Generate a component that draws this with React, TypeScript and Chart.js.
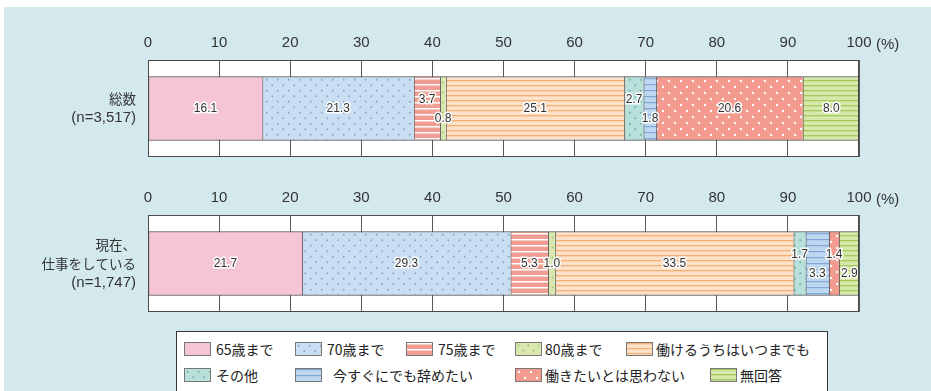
import React, { useEffect, useRef } from 'react';
import { Chart, registerables } from 'chart.js';

Chart.register(...registerables);

// ---------------- data ----------------
const seriesNames = [
  '65歳まで',
  '70歳まで',
  '75歳まで',
  '80歳まで',
  '働けるうちはいつまでも',
  'その他',
  '今すぐにでも辞めたい',
  '働きたいとは思わない',
  '無回答',
];
const totalLabel = ['総数', '(n=3,517)'];
const workingLabel = ['現在、', '仕事をしている', '(n=1,747)'];
const totalValues = [16.1, 21.3, 3.7, 0.8, 25.1, 2.7, 1.8, 20.6, 8.0];
const workingValues = [21.7, 29.3, 5.3, 1.0, 33.5, 1.7, 3.3, 1.4, 2.9];
const tickValues = [0, 10, 20, 30, 40, 50, 60, 70, 80, 90, 100];
const unitLabel = '(%)';

// ---------------- styles ----------------
type Fill = { base: string; kind: 'none' | 'dots' | 'stripes'; fg?: string; size?: number; r?: number; line?: number };
const fills: Fill[] = [
  { base: '#f5c5d7', kind: 'none' },
  { base: '#c9def2', kind: 'dots', fg: '#8ca4c0', size: 11, r: 0.9 },
  { base: '#f09d93', kind: 'stripes', fg: '#ffffff', size: 6, line: 1.5 },
  { base: '#d8e8b0', kind: 'dots', fg: '#a3c267', size: 10, r: 0.9 },
  { base: '#fde1cb', kind: 'stripes', fg: '#f5b073', size: 5, line: 1.3 },
  { base: '#b8dfd9', kind: 'dots', fg: '#6cb2a5', size: 11, r: 1.0 },
  { base: '#bdd7f1', kind: 'stripes', fg: '#83a7d6', size: 6, line: 1.2 },
  { base: '#f39b8f', kind: 'dots', fg: '#ffffff', size: 12, r: 1.2 },
  { base: '#d6e9aa', kind: 'stripes', fg: '#a5ca5f', size: 5, line: 1.3 },
];
const totalOffsets = [0, 0, -9, 10, 0, -9, 10, 0, 0];
const workingOffsets = [0, 0, 0, 0, 0, -9, 10, -9, 10];

const legendRows = [
  [
    { i: 0, sx: 184, tx: 216 },
    { i: 1, sx: 295, tx: 327 },
    { i: 2, sx: 406, tx: 438 },
    { i: 3, sx: 515, tx: 545 },
    { i: 4, sx: 626, tx: 656 },
  ],
  [
    { i: 5, sx: 184, tx: 216 },
    { i: 6, sx: 295, tx: 333 },
    { i: 7, sx: 515, tx: 545 },
    { i: 8, sx: 710, tx: 740 },
  ],
];

const NUM_FONT = "'Liberation Sans', Arial, sans-serif";
const JP_FONT = "'Noto Sans CJK JP', 'Noto Sans', sans-serif";

function makeTile(f: Fill): HTMLCanvasElement {
  const c = document.createElement('canvas');
  const s = f.size || 4;
  c.width = f.kind === 'stripes' ? 8 : s;
  c.height = s;
  const ctx = c.getContext('2d')!;
  ctx.fillStyle = f.base;
  ctx.fillRect(0, 0, c.width, c.height);
  if (f.kind === 'stripes') {
    ctx.fillStyle = f.fg!;
    ctx.fillRect(0, 0, c.width, 1);
    const extra = (f.line || 1) - 1;
    if (extra > 0) {
      ctx.globalAlpha = extra;
      ctx.fillRect(0, 1, c.width, 1);
      ctx.globalAlpha = 1;
    }
  } else if (f.kind === 'dots') {
    ctx.fillStyle = f.fg!;
    const r = f.r || 1;
    ctx.beginPath();
    ctx.arc(s * 0.25, s * 0.25, r, 0, Math.PI * 2);
    ctx.arc(s * 0.75, s * 0.75, r, 0, Math.PI * 2);
    ctx.fill();
  }
  return c;
}

const isCJK = (ch: string) => /[\u3000-\u30ff\u4e00-\u9fff\uff00-\uffef]/.test(ch);

function splitRuns(text: string) {
  const runs: { t: string; cjk: boolean }[] = [];
  for (const ch of text) {
    const c = isCJK(ch);
    const last = runs[runs.length - 1];
    if (last && last.cjk === c) last.t += ch;
    else runs.push({ t: ch, cjk: c });
  }
  return runs;
}

const bgPlugin = {
  id: 'areaBg',
  beforeDraw(chart: any) {
    const { ctx, chartArea: a } = chart;
    ctx.save();
    ctx.fillStyle = '#ffffff';
    ctx.fillRect(a.left, a.top, a.right - a.left, a.bottom - a.top);
    ctx.restore();
  },
};

const framePlugin = {
  id: 'frame',
  afterDraw(chart: any) {
    const { ctx, chartArea: a } = chart;
    ctx.save();
    ctx.strokeStyle = '#4a4a4a';
    ctx.lineWidth = 1;
    ctx.strokeRect(Math.round(a.left) + 0.5, Math.round(a.top) + 0.5, Math.round(a.right - a.left) - 1, Math.round(a.bottom - a.top) - 1);
    ctx.fillStyle = '#333';
    ctx.font = `15px ${NUM_FONT}`;
    ctx.textAlign = 'left';
    ctx.textBaseline = 'bottom';
    ctx.fillText(unitLabel, a.right + 17, a.top - 8);

    // category label, mixed Japanese / Latin fonts, right aligned
    const ys = chart.scales.y;
    const lines: string[] = chart.data.labels[0];
    const lh = 19;
    const cy = ys.getPixelForTick(0);
    const xr = a.left - 12;
    ctx.textBaseline = 'middle';
    lines.forEach((line, k) => {
      const y = cy + (k - (lines.length - 1) / 2) * lh;
      const runs = splitRuns(line);
      const fontOf = (r: { cjk: boolean }) => (r.cjk ? `13.5px ${JP_FONT}` : `15px ${NUM_FONT}`);
      let w = 0;
      runs.forEach((r) => {
        ctx.font = fontOf(r);
        w += ctx.measureText(r.t).width;
      });
      let x = xr - w;
      runs.forEach((r) => {
        ctx.font = fontOf(r);
        ctx.textAlign = 'left';
        ctx.fillText(r.t, x, y);
        x += ctx.measureText(r.t).width;
      });
    });
    ctx.restore();
  },
};

const segLabelPlugin = {
  id: 'segLabels',
  afterDatasetsDraw(chart: any, _args: any, opts: any) {
    const { ctx } = chart;
    const offsets: number[] = opts.offsets || [];
    ctx.save();
    ctx.font = `12px ${NUM_FONT}`;
    ctx.textAlign = 'center';
    ctx.textBaseline = 'middle';
    ctx.lineJoin = 'round';
    chart.data.datasets.forEach((ds: any, i: number) => {
      const el = chart.getDatasetMeta(i).data[0];
      if (!el) return;
      const p = el.getProps(['x', 'base', 'y'], true);
      const cx = (p.x + p.base) / 2;
      const cy = p.y + (offsets[i] || 0);
      const txt = Number(ds.data[0]).toFixed(1);
      ctx.strokeStyle = 'rgba(255,255,255,0.95)';
      ctx.lineWidth = 3;
      ctx.strokeText(txt, cx, cy);
      ctx.fillStyle = '#333';
      ctx.fillText(txt, cx, cy);
    });
    ctx.restore();
  },
};

function BarPanel({ top, label, values, offsets }: { top: number; label: string[]; values: number[]; offsets: number[] }) {
  const ref = useRef<HTMLCanvasElement | null>(null);
  useEffect(() => {
    const canvas = ref.current!;
    const ctx = canvas.getContext('2d')!;
    const patterns = fills.map((f) => ctx.createPattern(makeTile(f), 'repeat')!);
    const chart = new Chart(canvas, {
      type: 'bar',
      data: {
        labels: [label],
        datasets: seriesNames.map((name, i) => ({
          label: name,
          data: [values[i]],
          backgroundColor: patterns[i],
          borderColor: '#4a4a4a',
          borderWidth: { top: 1, bottom: 1, left: 1, right: 0 },
          borderSkipped: false,
          barThickness: 64,
        })),
      },
      options: {
        indexAxis: 'y',
        animation: false,
        responsive: false,
        maintainAspectRatio: false,
        layout: { padding: { left: 0, right: 72, top: 0, bottom: 3 } },
        plugins: {
          legend: { display: false },
          tooltip: { enabled: false },
          segLabels: { offsets },
        } as any,
        scales: {
          x: {
            type: 'linear',
            position: 'top',
            stacked: true,
            min: 0,
            max: 100,
            afterBuildTicks: (s: any) => {
              s.ticks = tickValues.map((v) => ({ value: v }));
            },
            ticks: {
              font: { family: NUM_FONT, size: 15 },
              color: '#333',
              padding: 8,
              maxRotation: 0,
              autoSkip: false,
            },
            grid: { color: '#5a5a5a', lineWidth: 1, drawTicks: false },
            border: { display: false },
            afterFit: (s: any) => {
              s.height = 60;
            },
          },
          y: {
            stacked: true,
            ticks: { display: false },
            grid: { display: false },
            border: { display: false },
            afterFit: (s: any) => {
              s.width = 148;
              s.paddingTop = 0;
              s.paddingBottom = 0;
            },
          },
        },
      } as any,
      plugins: [bgPlugin, segLabelPlugin, framePlugin],
    });
    return () => chart.destroy();
  }, []);
  return (
    <canvas
      ref={ref}
      width={931}
      height={160}
      style={{ position: 'absolute', left: 0, top, width: 931, height: 160 }}
    />
  );
}

function Legend() {
  const tiles = fills.map((f) => (f.kind === 'none' ? null : makeTile(f).toDataURL()));
  const rowTops = [342, 368];
  return (
    <>
      <div
        style={{
          position: 'absolute',
          left: 176,
          top: 331,
          width: 652,
          height: 70,
          background: '#ffffff',
          border: '1px solid #333',
          boxSizing: 'border-box',
        }}
      />
      {legendRows.map((row, r) =>
        row.map((it) => (
          <React.Fragment key={it.i}>
            <div
              style={{
                position: 'absolute',
                left: it.sx,
                top: rowTops[r],
                width: 27,
                height: 14,
                boxSizing: 'border-box',
                border: '1px solid #777',
                backgroundColor: fills[it.i].base,
                backgroundImage: tiles[it.i] ? `url(${tiles[it.i]})` : 'none',
              }}
            />
            <div
              style={{
                position: 'absolute',
                left: it.tx,
                top: rowTops[r] - 3,
                height: 20,
                lineHeight: '20px',
                fontFamily: JP_FONT,
                fontSize: 14,
                color: '#222',
                whiteSpace: 'nowrap',
              }}
            >
              {seriesNames[it.i]}
            </div>
          </React.Fragment>
        ))
      )}
    </>
  );
}

export default function App() {
  return (
    <div style={{ position: 'absolute', left: 0, top: 0, width: 931, height: 391, background: '#ffffff', overflow: 'hidden' }}>
      <div style={{ position: 'absolute', left: 4, top: 7, width: 927, height: 384, background: '#d3e9ee' }} />
      <BarPanel top={0} label={totalLabel} values={totalValues} offsets={totalOffsets} />
      <BarPanel top={155} label={workingLabel} values={workingValues} offsets={workingOffsets} />
      <Legend />
    </div>
  );
}
